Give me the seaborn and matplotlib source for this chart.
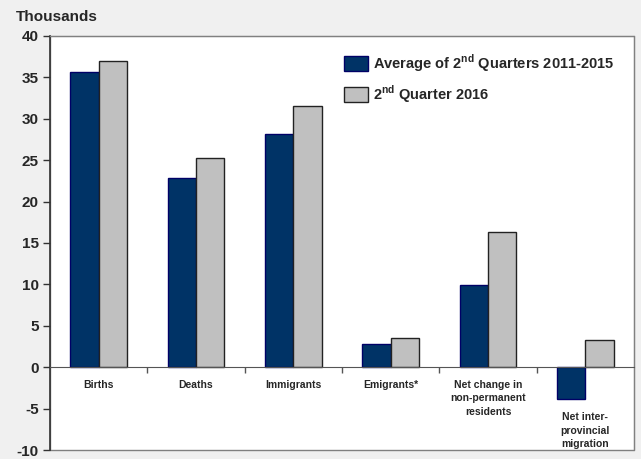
import pandas as pd
import matplotlib
matplotlib.use("Agg")
import matplotlib.pyplot as plt
import seaborn as sns
from matplotlib.patches import Patch

# data (thousands)
categories = ["Births", "Deaths", "Immigrants", "Emigrants*",
              "Net change in\nnon-permanent\nresidents", "Net inter-\nprovincial\nmigration"]
avg_2011_2015 = [35.7, 22.9, 28.2, 2.8, 9.9, -3.9]
q2_2016 = [37.0, 25.3, 31.6, 3.5, 16.3, 3.3]
series_names = ["Average of 2$^{\\mathbf{nd}}$ Quarters 2011-2015", "2$^{\\mathbf{nd}}$ Quarter 2016"]
y_ticks = [-10, -5, 0, 5, 10, 15, 20, 25, 30, 35, 40]

df = pd.DataFrame({
    "category": categories * 2,
    "value": avg_2011_2015 + q2_2016,
    "series": [series_names[0]] * len(categories) + [series_names[1]] * len(categories),
})

sns.set_style("white")
plt.rcParams["font.family"] = ["Liberation Sans", "DejaVu Sans"]
plt.rcParams["font.weight"] = "bold"
plt.rcParams["mathtext.fontset"] = "custom"
plt.rcParams["mathtext.rm"] = "Liberation Sans:bold"
plt.rcParams["mathtext.bf"] = "Liberation Sans:bold"

dark = "#003366"
light = "#c0c0c0"

fig = plt.figure(figsize=(6.41, 4.59), dpi=100, facecolor="#f0f0f0")
ax = fig.add_axes([0.078, 0.0196, 0.911, 0.902])

sns.barplot(data=df, x="category", y="value", hue="series", palette=[dark, light],
            width=0.58, saturation=1, ax=ax, legend=False)

# bar edges
n = len(categories)
for i, p in enumerate(ax.patches[:2 * n]):
    if i < n:
        p.set_edgecolor("#000066")
    else:
        p.set_edgecolor("#222222")
    p.set_linewidth(1)

ax.set_ylim(-10, 40)
ax.set_xlim(-0.5, n - 0.5)
ax.set_yticks(y_ticks)
ax.set_yticklabels([str(t) for t in y_ticks], fontsize=11, fontweight="bold")
ax.tick_params(axis="y", direction="out", length=5, width=1, color="#333333", pad=3, left=True)

# x axis at zero
ax.spines["bottom"].set_position(("data", 0))
ax.spines["bottom"].set_color("#555555")
ax.spines["left"].set_color("#333333")
ax.spines["left"].set_linewidth(1.2)
for s in ["top", "right"]:
    ax.spines[s].set_color("#808080")
ax.set_xticks(range(n))
ax.set_xticklabels([])
ax.set_xticks([i - 0.5 for i in range(1, n)], minor=True)
ax.tick_params(axis="x", which="major", length=0)
ax.tick_params(axis="x", which="minor", direction="out", length=4, width=1, color="#555555", bottom=True)
ax.set_xlabel("")
ax.set_ylabel("")

# category labels under the zero line (last one sits below the negative bar)
for i, lab in enumerate(categories):
    y = min(0, avg_2011_2015[i], q2_2016[i])
    ax.annotate(lab, xy=(i, y), xytext=(0, -9), textcoords="offset points",
                ha="center", va="top", fontsize=7.5, fontweight="bold", linespacing=1.45)

# frame for the plot area
ax.patch.set_edgecolor("#808080")
ax.patch.set_linewidth(1)

handles = [Patch(facecolor=dark, edgecolor="#000066"),
           Patch(facecolor=light, edgecolor="#222222")]
ax.legend(handles, series_names, loc="upper right", bbox_to_anchor=(0.99, 0.993), frameon=False,
          prop={"size": 10.5, "weight": "bold"}, handlelength=1.65, handleheight=1.25,
          labelspacing=0.66, handletextpad=0.4)

fig.text(0.025, 0.962, "Thousands", fontsize=11, fontweight="bold", va="center", ha="left")

plt.savefig("out.png", dpi=100, facecolor=fig.get_facecolor())
